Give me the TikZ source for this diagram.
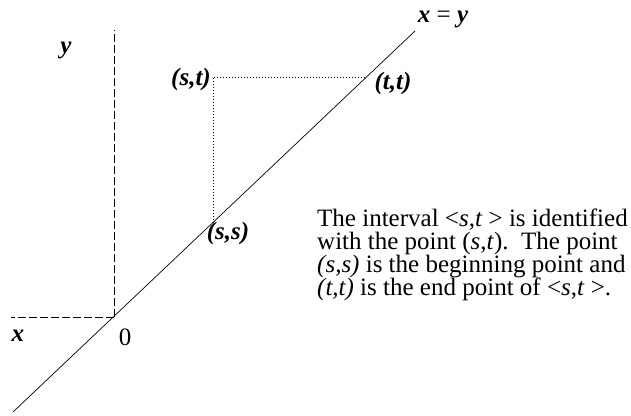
\documentclass[tikz,border=0pt]{standalone}
\usepackage{fontspec}
\setmainfont{Liberation Serif}
\usetikzlibrary{positioning}
\tikzset{
  axis/.style={dash pattern=on 8pt off 3pt, line width=0.7pt},
  guide/.style={dash pattern=on 1pt off 2pt, line width=0.7pt},
  diag/.style={line width=0.7pt},
  lbl/.style={font=\fontsize{25}{25}\selectfont\bfseries\itshape, inner sep=0pt},
  note/.style={font=\fontsize{25}{23}\selectfont, align=left, inner sep=0pt}
}

\begin{document}
\begin{tikzpicture}[x=1pt, y=-1pt]
\useasboundingbox (0,0) rectangle (631,415);
% points of the picture
\coordinate (lo) at (13,412);
\coordinate (hi) at (415,31);
\coordinate (O) at (114,317);
\coordinate (ytop) at (114,30);
\coordinate (xend) at (11,317);
\coordinate (ss) at (213,223);
\coordinate (st) at (213,77);
\coordinate (tt) at (366,77);
% axes and diagonal
\draw[axis] (O) -- (ytop);
\draw[axis] (O) -- (xend);
\draw[diag] (lo) -- (hi);
\draw[guide] (ss) -- (st) -- (tt);
% labels
\node[lbl] (ylbl) at (66,50) {y};
\node[lbl] (xlbl) at (18,336) {x};
\node[lbl, font=\fontsize{25}{25}\selectfont] (zero) at (125,337) {0};
\node[lbl, anchor=east] (stlbl) at ([xshift=-2pt,yshift=-2pt]st) {(s,t)};
\node[lbl] (ttlbl) at (393,83) {(t,t)};
\node[lbl] (sslbl) at (228,233) {(s,s)};
\node[lbl, anchor=base] (diaglbl) at (443,22) {x \textup{\mdseries=} y};
\node[note, anchor=north west] (text) at (317,209)
  {The interval <\textit{s},\textit{t} > is identified\\
   with the point (\textit{s},\textit{t}).\ \ The point\\
   \textit{(s,s)} is the beginning point and\\
   \textit{(t,t)} is the end point of <\textit{s},\textit{t} >.};
\end{tikzpicture}
\end{document}
